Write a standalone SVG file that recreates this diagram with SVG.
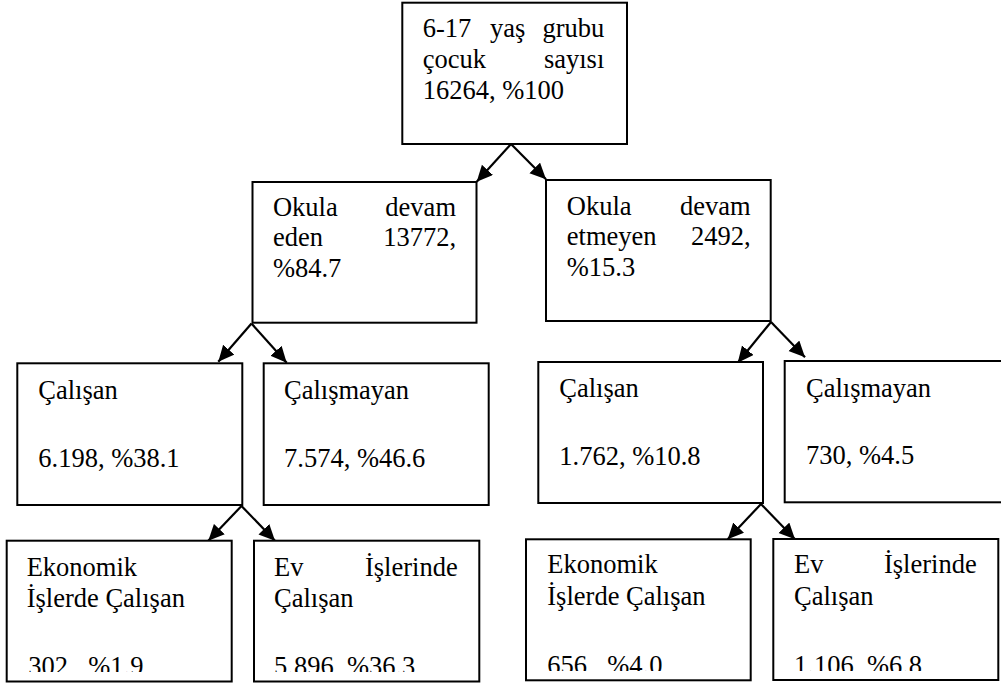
<svg xmlns="http://www.w3.org/2000/svg" width="1001" height="688" viewBox="0 0 1001 688">
<style>
.box{fill:#fff;stroke:#000;stroke-width:2}
.t{font-family:'Liberation Serif','Times New Roman',serif;font-size:26.5px;fill:#000}
.e{text-anchor:end}
.c{stroke:#000;stroke-width:2.2;fill:none;marker-end:url(#ah)}
</style>
<defs>
<marker id="ah" markerUnits="userSpaceOnUse" markerWidth="18" markerHeight="16" refX="16" refY="7.5" orient="auto">
<path d="M0,0 L16,7.5 L0,15 z" fill="#000"/>
</marker>
<clipPath id="clipL"><rect x="0" y="0" width="500" height="672"/></clipPath>
<clipPath id="clipR"><rect x="500" y="0" width="501" height="671"/></clipPath>
</defs>
<rect width="1001" height="688" fill="#fff"/>

<g id="connectors">
<line class="c" x1="511" y1="144" x2="476.7" y2="181.7"/>
<line class="c" x1="511" y1="144" x2="546" y2="179.3"/>
<line class="c" x1="251.5" y1="323.5" x2="218.3" y2="361.7"/>
<line class="c" x1="251.5" y1="323.5" x2="286.7" y2="362.7"/>
<line class="c" x1="771" y1="322" x2="737.7" y2="362.7"/>
<line class="c" x1="771" y1="322" x2="805" y2="357.3"/>
<line class="c" x1="241.5" y1="506" x2="208.3" y2="540.7"/>
<line class="c" x1="241.5" y1="506" x2="275" y2="540.7"/>
<line class="c" x1="761" y1="504" x2="727.7" y2="539.3"/>
<line class="c" x1="761" y1="504" x2="795" y2="539.3"/>
</g>

<g id="root">
<rect class="box" x="402.3" y="2.7" width="224.7" height="141.3"/>
<text class="t"><tspan x="422.7" y="36.7">6-17</tspan><tspan x="490" y="36.7">yaş</tspan><tspan class="e" x="604.3" y="36.7">grubu</tspan></text>
<text class="t"><tspan x="422.7" y="68.3">çocuk</tspan><tspan class="e" x="604.3" y="68.3">sayısı</tspan></text>
<text class="t" x="422.7" y="99">16264, %100</text>
</g>

<g id="okula-devam-eden">
<rect class="box" x="252.5" y="182" width="224" height="140.7"/>
<text class="t"><tspan x="272.9" y="216">Okula</tspan><tspan class="e" x="456" y="216">devam</tspan></text>
<text class="t"><tspan x="272.9" y="246">eden</tspan><tspan class="e" x="456" y="246">13772,</tspan></text>
<text class="t" x="272.9" y="276.7">%84.7</text>
</g>

<g id="okula-devam-etmeyen">
<rect class="box" x="546" y="180" width="224.7" height="141"/>
<text class="t"><tspan x="566.8" y="215">Okula</tspan><tspan class="e" x="750.7" y="215">devam</tspan></text>
<text class="t"><tspan x="566.8" y="245">etmeyen</tspan><tspan class="e" x="750.7" y="245">2492,</tspan></text>
<text class="t" x="566.8" y="276">%15.3</text>
</g>

<g id="calisan-1">
<rect class="box" x="17.3" y="363.3" width="225" height="141.7"/>
<text class="t" x="38.3" y="399.3">Çalışan</text>
<text class="t" x="38.3" y="466.7">6.198, %38.1</text>
</g>

<g id="calismayan-1">
<rect class="box" x="263.7" y="363.3" width="225" height="141.7"/>
<text class="t" x="284" y="399.3">Çalışmayan</text>
<text class="t" x="284" y="466.7">7.574, %46.6</text>
</g>

<g id="calisan-2">
<rect class="box" x="538.3" y="362" width="224.7" height="141"/>
<text class="t" x="559.3" y="397.3">Çalışan</text>
<text class="t" x="559.3" y="465">1.762, %10.8</text>
</g>

<g id="calismayan-2">
<rect class="box" x="784.7" y="361" width="225" height="141.3"/>
<text class="t" x="806" y="397">Çalışmayan</text>
<text class="t" x="806" y="464">730, %4.5</text>
</g>

<g id="ekonomik-1">
<rect class="box" x="6.7" y="540.7" width="225" height="140.8"/>
<text class="t" x="26.7" y="575.7">Ekonomik</text>
<text class="t" x="26.7" y="606.7">İşlerde Çalışan</text>
<text class="t" clip-path="url(#clipL)"><tspan x="28.3" y="674.5">302,</tspan><tspan x="88.3" y="674.5">%1.9</tspan></text>
</g>

<g id="ev-1">
<rect class="box" x="254" y="540.7" width="225.3" height="140.8"/>
<text class="t"><tspan x="274" y="575.7">Ev</tspan><tspan class="e" x="457.7" y="575.7">İşlerinde</tspan></text>
<text class="t" x="274" y="606.7">Çalışan</text>
<text class="t" clip-path="url(#clipL)" x="274" y="674.5">5.896, %36.3</text>
</g>

<g id="ekonomik-2">
<rect class="box" x="526" y="539.3" width="224.7" height="141"/>
<text class="t" x="547.3" y="573.3">Ekonomik</text>
<text class="t" x="547.3" y="604.7">İşlerde Çalışan</text>
<text class="t" clip-path="url(#clipR)"><tspan x="547.3" y="673.6">656,</tspan><tspan x="607.3" y="673.6">%4.0</tspan></text>
</g>

<g id="ev-2">
<rect class="box" x="773.3" y="539" width="225" height="141"/>
<text class="t"><tspan x="794" y="573.3">Ev</tspan><tspan class="e" x="976.7" y="573.3">İşlerinde</tspan></text>
<text class="t" x="794" y="604.7">Çalışan</text>
<text class="t" clip-path="url(#clipR)" x="794" y="673.6">1.106, %6.8</text>
</g>
</svg>
